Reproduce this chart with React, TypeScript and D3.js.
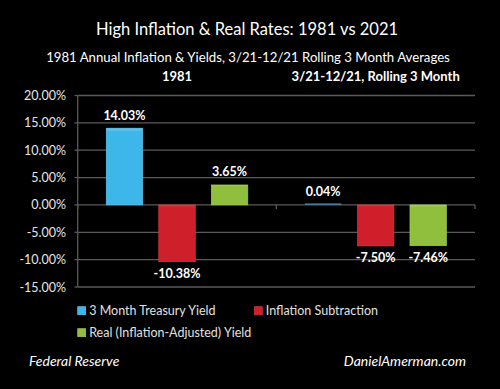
import React from 'react';
import * as d3 from 'd3';

const groups = ['1981', '3/21-12/21, Rolling 3 Month'];
const seriesNames = ['3 Month Treasury Yield', 'Inflation Subtraction', 'Real (Inflation-Adjusted) Yield'];
const treasury = [14.03, 0.04];
const inflation = [-10.38, -7.5];
const realYield = [3.65, -7.46];
const yTicks = [20, 15, 10, 5, 0, -5, -10, -15];

const colors = ['#3db7e9', '#cf1f2a', '#8fbf3c'];
const lights = ['#6cc9f0', '#dd3a42', '#a8d25a'];

const width = 500;
const height = 389;
const font = 'Lato, "Open Sans", sans-serif';

export default function App() {
  const values = [treasury, inflation, realYield];
  const y = d3.scaleLinear().domain([-15, 20]).range([287, 95.5]);
  const x0 = d3.scaleBand().domain(groups).range([77.7, 475]).padding(0);
  const x1 = d3.scaleBand().domain(seriesNames).range([0, x0.bandwidth()]).paddingInner(0.305).paddingOuter(0.543);
  const fmt = (v: number) => v.toFixed(2) + '%';

  return (
    <svg width={width} height={height} style={{ position: 'absolute', left: 0, top: 0, background: '#000' }} fontFamily={font}>
      <defs>
        {colors.map((c, i) => (
          <linearGradient key={i} id={'g' + i} x1="0" y1="0" x2="0" y2="1">
            <stop offset="0" stopColor={lights[i]} />
            <stop offset="0.05" stopColor={c} />
            <stop offset="1" stopColor={c} />
          </linearGradient>
        ))}
      </defs>
      <rect width={width} height={height} fill="#000" />
      <text x={247} y={35} textAnchor="middle" fill="#fff" fontSize={16.5}>High Inflation &amp; Real Rates: 1981 vs 2021</text>
      <text x={248} y={62} textAnchor="middle" fill="#fff" fontSize={13.2}>1981 Annual Inflation &amp; Yields, 3/21-12/21 Rolling 3 Month Averages</text>

      {groups.map(g => (
        <text key={g} x={x0(g)! + x0.bandwidth() / 2} y={81} textAnchor="middle" fill="#fff" fontSize={13} fontWeight="bold">{g}</text>
      ))}

      {yTicks.map(t => (
        <g key={t}>
          <line x1={77.7} x2={475} y1={y(t)} y2={y(t)} stroke="#5a5a5a" strokeWidth={1.3} />
          <line x1={74.5} x2={77.7} y1={y(t)} y2={y(t)} stroke="#5a5a5a" strokeWidth={1.3} />
          <text x={66} y={y(t) + 4.5} textAnchor="end" fill="#e6e6e6" fontSize={12.5}>{t.toFixed(2) + '%'}</text>
        </g>
      ))}
      <line x1={77.7} x2={77.7} y1={y(20)} y2={y(-15)} stroke="#5a5a5a" strokeWidth={1.3} />
      {[77.7, x0(groups[1])!, 475].map((xv, i) => (
        <line key={i} x1={xv} x2={xv} y1={y(0)} y2={y(0) + 4} stroke="#5a5a5a" strokeWidth={1.3} />
      ))}

      {groups.map((g, gi) => (
        <g key={g}>
          {seriesNames.map((s, si) => {
            const v = values[si][gi];
            const bx = x0(g)! + x1(s)!;
            const top = y(Math.max(0, v));
            const h = Math.abs(y(v) - y(0));
            const tiny = h < 2;
            return (
              <g key={s}>
                {tiny ? (
                  <rect x={bx} y={y(0) - 1.5} width={x1.bandwidth()} height={1.5} fill="#4f7f9c" />
                ) : (
                  <rect x={bx} y={top} width={x1.bandwidth()} height={h} fill={`url(#g${si})`} stroke={lights[si]} strokeWidth={0.6} />
                )}
                <text x={bx + x1.bandwidth() / 2} y={v >= 0 ? y(v) - 8.5 : y(v) + 16.5} textAnchor="middle" fill="#fff" fontSize={12.5} fontWeight="bold">{fmt(v)}</text>
              </g>
            );
          })}
        </g>
      ))}

      {seriesNames.map((s, i) => {
        const lx = i === 1 ? 254.3 : 77.7;
        const ly = i === 2 ? 332.7 : 310.7;
        return (
          <g key={s}>
            <rect x={lx} y={ly - 4} width={8} height={8} fill={`url(#g${i})`} stroke={lights[i]} strokeWidth={0.6} />
            <text x={lx + 11.5} y={ly + 4.5} fill="#e0e0e0" fontSize={12.5}>{s}</text>
          </g>
        );
      })}

      <text x={29} y={366} fill="#fff" fontSize={14} fontStyle="italic">Federal Reserve</text>
      <text x={466} y={366} textAnchor="end" fill="#fff" fontSize={14} fontStyle="italic">DanielAmerman.com</text>
    </svg>
  );
}
